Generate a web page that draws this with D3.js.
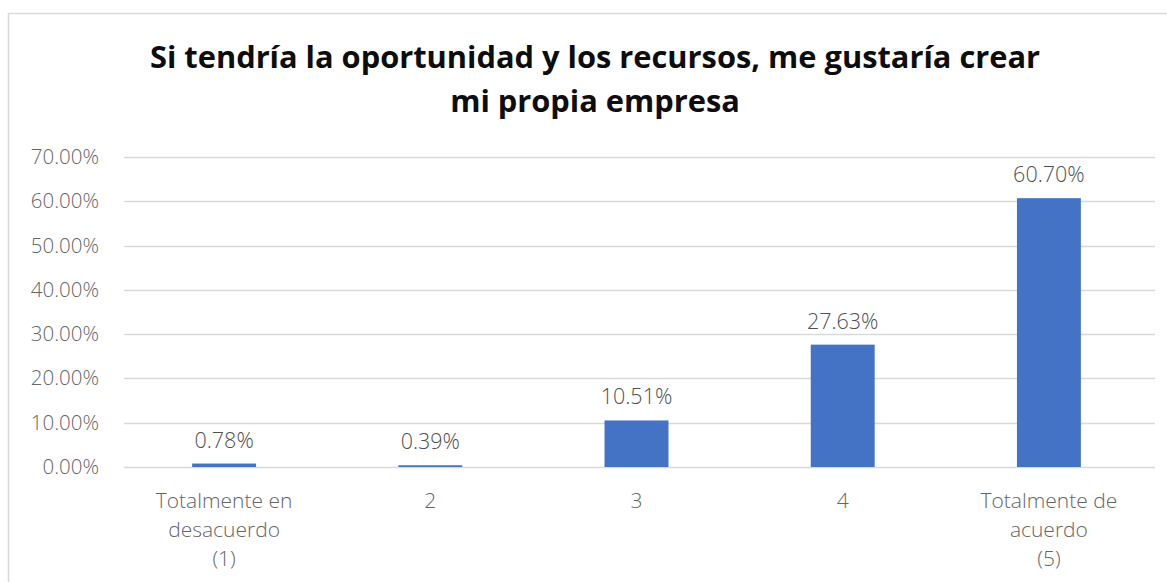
<!DOCTYPE html>
<html><head><meta charset="utf-8">
<script src="https://cdn.jsdelivr.net/npm/d3@7/dist/d3.min.js"></script>
<style>body{margin:0;background:#fff;}svg{display:block;}</style>
</head><body><svg id="c" width="1167" height="582"></svg>
<script>
const categories = [["Totalmente en","desacuerdo","(1)"],["2"],["3"],["4"],["Totalmente de","acuerdo","(5)"]];
const values = [0.78, 0.39, 10.51, 27.63, 60.70];
const yTicks = [0,10,20,30,40,50,60,70];
const titleLines = ["Si tendría la oportunidad y los recursos, me gustaría crear","mi propia empresa"];

const svg = d3.select("#c");
const font = "'Open Sans', 'Noto Sans', sans-serif";
// chart frame
svg.append("rect").attr("x",8.5).attr("y",13.5).attr("width",1180).attr("height",600)
  .attr("fill","#fff").attr("stroke","#d9d9d9").attr("stroke-width",1.5);

const pLeft=121, pRight=1152, pTop=157, pBottom=467;
const x = d3.scaleBand().domain(d3.range(values.length)).range([pLeft,pRight]).paddingInner(0.69).paddingOuter(0.345);
const y = d3.scaleLinear().domain([0,70]).range([pBottom,pTop]);

// gridlines
svg.append("g").selectAll("line").data(yTicks).join("line")
  .attr("x1",124).attr("x2",1155).attr("y1",d=>Math.round(y(d))+0.5).attr("y2",d=>Math.round(y(d))+0.5)
  .attr("stroke","#d9d9d9").attr("stroke-width",1.3);

// y axis
const yAxis = d3.axisLeft(y).tickValues(yTicks).tickFormat(d=>d.toFixed(2)+"%").tickSize(0).tickPadding(0);
const ya = svg.append("g").attr("transform","translate(99,0)").call(yAxis);
ya.select(".domain").remove();
ya.selectAll("text").attr("font-family",font).attr("font-size","20.5px").attr("font-weight",300).attr("fill","#666666");

// bars
svg.append("g").selectAll("rect").data(values).join("rect")
  .attr("x",(d,i)=>x(i)).attr("width",x.bandwidth())
  .attr("y",d=>y(d)).attr("height",d=>pBottom-y(d)).attr("fill","#4472C4");

// data labels
svg.append("g").selectAll("text").data(values).join("text")
  .attr("x",(d,i)=>x(i)+x.bandwidth()/2).attr("y",d=>y(d)-16)
  .attr("text-anchor","middle").attr("font-family",font).attr("font-size","21.5px").attr("font-weight",300).attr("fill","#505050")
  .text(d=>d.toFixed(2)+"%");

// category labels
const cg = svg.append("g").selectAll("text").data(categories).join("text")
  .attr("x",(d,i)=>x(i)+x.bandwidth()/2).attr("y",508)
  .attr("text-anchor","middle").attr("font-family",font).attr("font-size","21px").attr("font-weight",300)
  .attr("fill","#666666");
cg.selectAll("tspan").data((d,i)=>d.map(t=>({t,i}))).join("tspan")
  .attr("x",d=>x(d.i)+x.bandwidth()/2).attr("dy",(d,j)=>j===0?0:29).text(d=>d.t);

// title
svg.append("g").selectAll("text").data(titleLines).join("text")
  .attr("x",595).attr("y",(d,i)=>68+i*44).attr("text-anchor","middle")
  .attr("font-family",font).attr("font-weight","bold").attr("font-size","30.8px").attr("fill","#0d0d0d")
  .text(d=>d);
</script></body></html>
